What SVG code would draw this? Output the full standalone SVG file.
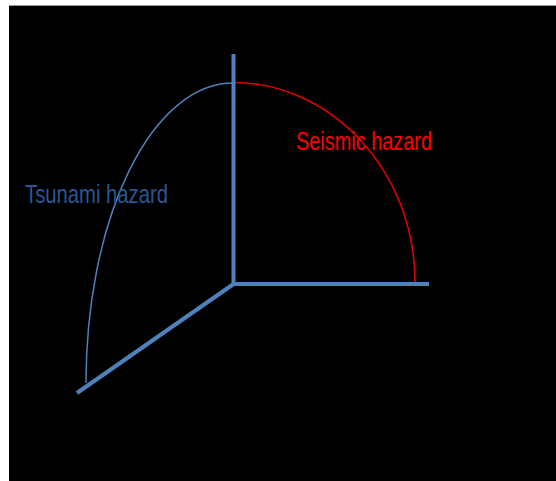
<svg xmlns="http://www.w3.org/2000/svg" width="556" height="481" viewBox="0 0 556 481">
<style>
.axis{stroke:#4F81BD;stroke-width:4;fill:none}
.lbl{font-family:"Liberation Sans",Arial,sans-serif;font-size:25px}
</style>
<rect x="0" y="0" width="556" height="481" fill="#ffffff"/>
<rect x="9" y="5" width="547" height="476" fill="#000000"/>
<line x1="9" y1="5.5" x2="556" y2="5.5" stroke="#9a9a9a" stroke-width="1"/>
<g id="connectors">
<path id="seismic-curve" d="M233,82.5 C330,82 415,170 415,282" stroke="#E00000" stroke-width="1.6" fill="none"/>
<path id="tsunami-curve" d="M233,83 A147,300 0 0 0 86,383" stroke="#4F81BD" stroke-width="1.5" fill="none"/>
<line id="axis-z" class="axis" x1="233.5" y1="54" x2="233.5" y2="284"/>
<line id="axis-x" class="axis" x1="233" y1="284" x2="429" y2="284"/>
<line id="axis-y" class="axis" x1="235" y1="283" x2="77" y2="393"/>
</g>
<g id="label-seismic"><text class="lbl" x="296" y="150" fill="#FF0000" textLength="136" lengthAdjust="spacingAndGlyphs">Seismic hazard</text></g>
<g id="label-tsunami"><text class="lbl" x="25" y="203" fill="#2A5696" textLength="143" lengthAdjust="spacingAndGlyphs">Tsunami hazard</text></g>
</svg>
